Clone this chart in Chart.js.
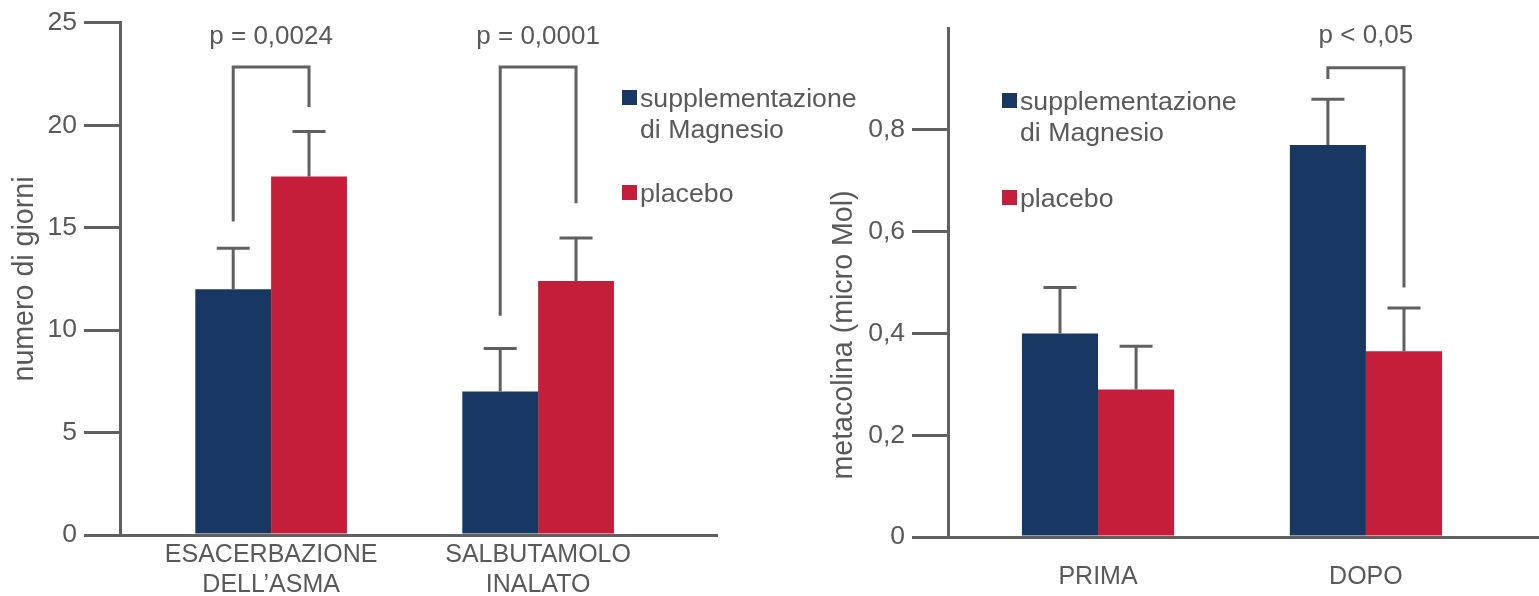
<!DOCTYPE html>
<html>
<head>
<meta charset="utf-8">
<script src="https://cdn.jsdelivr.net/npm/chart.js@4.4.1/dist/chart.umd.min.js"></script>
<style>
  html, body { margin: 0; padding: 0; background: #fff; }
  #wrap { position: relative; width: 1539px; height: 596px; overflow: hidden; }
  .box { position: absolute; top: 0; height: 596px; }
  #boxA { left: 0; width: 870px; }
  #boxB { left: 820px; width: 719px; }
</style>
</head>
<body>
<div id="wrap">
  <div class="box" id="boxA"><canvas id="graficoGiorni" width="870" height="596"></canvas></div>
  <div class="box" id="boxB"><canvas id="graficoMetacolina" width="719" height="596"></canvas></div>
</div>
<script>
// serie
const etichetteSerie = [['supplementazione', 'di Magnesio'], ['placebo']];
const coloriSerie = ['#183863', '#c41e3a'];

// grafico 1: numero di giorni
const categorieGiorni = [['ESACERBAZIONE', 'DELL\u2019ASMA'], ['SALBUTAMOLO', 'INALATO']];
const magnesioGiorni = [12, 7];
const placeboGiorni = [17.5, 12.4];
const errMagnesioGiorni = [2.0, 2.1];
const errPlaceboGiorni = [2.2, 2.1];
const tickGiorni = [0, 5, 10, 15, 20, 25];
const pGiorni = [
    { cat: 0, sx: 15.3, dx: 20.9, top: 22.85, testo: 'p = 0,0024', yTesto: 24.3 },
    { cat: 1, sx: 10.7, dx: 16.2, top: 22.85, testo: 'p = 0,0001', yTesto: 24.3 }
];

// grafico 2: metacolina
const categorieMetacolina = ['PRIMA', 'DOPO'];
const magnesioMetacolina = [0.40, 0.77];
const placeboMetacolina = [0.29, 0.365];
const errMagnesioMetacolina = [0.09, 0.09];
const errPlaceboMetacolina = [0.085, 0.085];
const tickMetacolina = [0, 0.2, 0.4, 0.6, 0.8];
const maxMetacolina = 1;
const pMetacolina = [
    { cat: 1, sx: 0.90, dx: 0.49, top: 0.922, testo: 'p < 0,05', yTesto: 0.984 }
];

const GRIGIO = '#606060';
const TESTO = '#595959';
Chart.defaults.font.family = "'Liberation Sans', Arial, sans-serif";
Chart.defaults.color = TESTO;

// barre d'errore, parentesi con p, legenda e titolo asse
const extra = {
    id: 'extra',
    afterDatasetsDraw(chart, args, opts) {
        const ctx = chart.ctx;
        const y = chart.scales.y;
        ctx.save();
        ctx.strokeStyle = GRIGIO;
        ctx.lineWidth = 3;
        ctx.fillStyle = TESTO;

        opts.errori.forEach((err, i) => {
            chart.getDatasetMeta(i).data.forEach((bar, j) => {
                const yErr = y.getPixelForValue(chart.data.datasets[i].data[j].y + err[j]);
                ctx.beginPath();
                ctx.moveTo(bar.x, bar.y);
                ctx.lineTo(bar.x, yErr);
                ctx.moveTo(bar.x - 16.5, yErr);
                ctx.lineTo(bar.x + 16.5, yErr);
                ctx.stroke();
            });
        });

        ctx.font = "26px 'Liberation Sans', Arial, sans-serif";
        ctx.textAlign = 'center';
        ctx.textBaseline = 'middle';
        opts.parentesi.forEach(p => {
            const x1 = chart.getDatasetMeta(0).data[p.cat].x;
            const x2 = chart.getDatasetMeta(1).data[p.cat].x;
            const yt = y.getPixelForValue(p.top);
            ctx.beginPath();
            ctx.moveTo(x1, y.getPixelForValue(p.sx));
            ctx.lineTo(x1, yt);
            ctx.lineTo(x2, yt);
            ctx.lineTo(x2, y.getPixelForValue(p.dx));
            ctx.stroke();
            ctx.fillText(p.testo, (x1 + x2) / 2, y.getPixelForValue(p.yTesto));
        });

        // legenda
        const L = opts.legenda;
        ctx.font = "26.7px 'Liberation Sans', Arial, sans-serif";
        ctx.textAlign = 'left';
        ctx.textBaseline = 'alphabetic';
        let base = L.y;
        etichetteSerie.forEach((righe, i) => {
            ctx.fillStyle = coloriSerie[i];
            ctx.fillRect(L.x, base - 17, 15, 15);
            ctx.fillStyle = TESTO;
            righe.forEach((r, k) => ctx.fillText(r, L.x + 18, base + k * 31));
            base += L.passo;
        });

        // titolo asse y
        const T = opts.titolo;
        ctx.font = "28.6px 'Liberation Sans', Arial, sans-serif";
        ctx.translate(T.x, T.y);
        ctx.rotate(-Math.PI / 2);
        ctx.textAlign = 'center';
        ctx.textBaseline = 'middle';
        ctx.fillText(T.testo, 0, 0);
        ctx.restore();
    }
};

function creaGrafico(canvas, c) {
    return new Chart(canvas, {
        type: 'bar',
        data: {
            datasets: [
                {
                    label: etichetteSerie[0].join(' '),
                    data: c.magnesio.map((v, i) => ({ x: i, y: v })),
                    backgroundColor: coloriSerie[0]
                },
                {
                    label: etichetteSerie[1].join(' '),
                    data: c.placebo.map((v, i) => ({ x: i, y: v })),
                    backgroundColor: coloriSerie[1]
                }
            ]
        },
        options: {
            responsive: false,
            animation: false,
            layout: { padding: c.padding },
            datasets: { bar: { barPercentage: 1, categoryPercentage: 0.568 } },
            scales: {
                x: {
                    type: 'linear',
                    min: c.xMin,
                    max: c.xMax,
                    offset: false,
                    afterBuildTicks: s => { s.ticks = c.categorie.map((_, i) => ({ value: i })); },
                    afterFit: s => { s.height = c.altezzaX; },
                    grid: { display: false, offset: false, drawTicks: false },
                    border: { display: true, color: GRIGIO, width: 3 },
                    ticks: {
                        autoSkip: false,
                        maxRotation: 0,
                        padding: c.paddingX,
                        font: { size: 25 },
                        color: TESTO,
                        callback: v => c.categorie[v]
                    }
                },
                y: {
                    min: 0,
                    max: c.yMax,
                    afterBuildTicks: s => { s.ticks = c.tick.map(v => ({ value: v })); },
                    afterFit: s => { s.width = c.larghezzaY; },
                    grid: { drawOnChartArea: false, drawTicks: true, tickLength: 36, color: GRIGIO, lineWidth: 3 },
                    border: { display: true, color: GRIGIO, width: 3 },
                    ticks: {
                        padding: 7,
                        font: { size: 26.5 },
                        color: TESTO,
                        callback: v => String(v).replace('.', ',')
                    }
                }
            },
            plugins: {
                legend: { display: false },
                tooltip: { enabled: false },
                extra: {
                    errori: c.errori,
                    parentesi: c.parentesi,
                    legenda: c.legenda,
                    titolo: c.titolo
                }
            }
        },
        plugins: [extra]
    });
}

creaGrafico(document.getElementById('graficoGiorni'), {
    categorie: categorieGiorni,
    magnesio: magnesioGiorni,
    placebo: placeboGiorni,
    errori: [errMagnesioGiorni, errPlaceboGiorni],
    parentesi: pGiorni,
    tick: tickGiorni,
    yMax: tickGiorni[tickGiorni.length - 1],
    xMin: -0.566,
    xMax: 1.67,
    padding: { top: 20, right: 153, left: 0, bottom: 0 },
    larghezzaY: 120,
    altezzaX: 61,
    paddingX: 5,
    legenda: { x: 622, y: 107, passo: 95 },
    titolo: { testo: 'numero di giorni', x: 25, y: 279 }
});

creaGrafico(document.getElementById('graficoMetacolina'), {
    categorie: categorieMetacolina,
    magnesio: magnesioMetacolina,
    placebo: placeboMetacolina,
    errori: [errMagnesioMetacolina, errPlaceboMetacolina],
    parentesi: pMetacolina,
    tick: tickMetacolina,
    yMax: maxMetacolina,
    xMin: -0.56,
    xMax: 1.646,
    padding: { top: 28, right: 0, left: 0, bottom: 0 },
    larghezzaY: 128,
    altezzaX: 59,
    paddingX: 25,
    legenda: { x: 182, y: 110, passo: 97 },
    titolo: { testo: 'metacolina (micro Mol)', x: 24, y: 335 }
});
</script>
</body>
</html>
